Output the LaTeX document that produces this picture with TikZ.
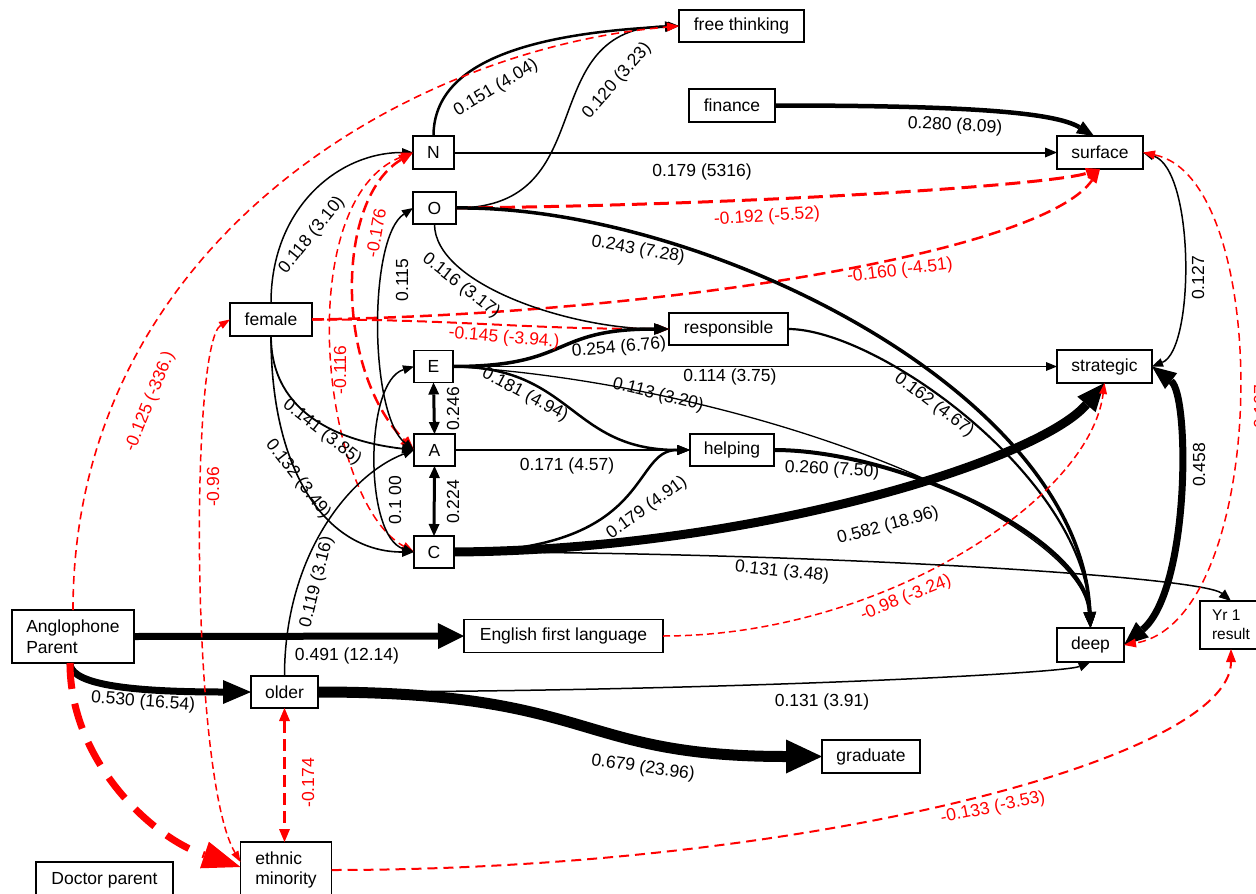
\documentclass[tikz,border=0pt]{standalone}
\usepackage{fontspec}
\setmainfont{Liberation Sans}
\usetikzlibrary{arrows.meta,calc}
\tikzset{
  box/.style={draw, line width=1.1pt, inner sep=0pt, outer sep=0pt, fill=white},
  lab/.style={inner sep=0pt},
  rlab/.style={inner sep=0pt, text=red},
  ah/.style args={#1/#2}{-{Triangle[length=#1pt,width=#2pt,line width=0pt]}},
  dah/.style args={#1/#2}{{Triangle[length=#1pt,width=#2pt,line width=0pt]}-{Triangle[length=#1pt,width=#2pt,line width=0pt]}},
  blk/.style={draw=black, line width=#1pt},
  rdash/.style args={#1/#2/#3}{draw=red, line width=#1pt, dash pattern=on #2pt off #3pt},
}
\begin{document}
\begin{tikzpicture}[x=1pt, y=-1pt, font=\fontsize{17.5}{20.5}\selectfont]
\fill[white] (0,0) rectangle (1256,894);
\useasboundingbox (0,0) rectangle (1256,894);

% ---------- nodes ----------
\node[box, minimum width=125pt, minimum height=32pt] (ft) at (741.5,26) {free thinking};
\node[box, minimum width=86pt, minimum height=33pt] (fin) at (732,105.5) {finance};
\node[box, minimum width=41pt, minimum height=33pt] (N) at (433.5,152.5) {N};
\node[box, minimum width=86pt, minimum height=33pt] (surf) at (1100,152.5) {surface};
\node[box, minimum width=43pt, minimum height=32pt] (O) at (434.5,208) {O};
\node[box, minimum width=82pt, minimum height=33pt] (fem) at (271,319.5) {female};
\node[box, minimum width=119pt, minimum height=32pt] (resp) at (728.5,329) {responsible};
\node[box, minimum width=39pt, minimum height=32pt] (E) at (433.5,366.5) {E};
\node[box, minimum width=95pt, minimum height=33pt] (strat) at (1104.5,366.5) {strategic};
\node[box, minimum width=41pt, minimum height=32pt] (A) at (434.5,450) {A};
\node[box, minimum width=84pt, minimum height=32pt] (help) at (732,450) {helping};
\node[box, minimum width=40pt, minimum height=32pt] (C) at (434,552) {C};
\node[box, minimum width=122pt, minimum height=53pt, align=left] (ang) at (73,636.5) {Anglophone\\Parent};
\node[box, minimum width=199pt, minimum height=33pt] (efl) at (563.5,636) {English first language};
\node[box, minimum width=67pt, minimum height=34pt] (deep) at (1090.5,645) {deep};
\node[box, minimum width=62pt, minimum height=48pt, align=left, font=\fontsize{15.5}{19}\selectfont] (yr1) at (1231,625) {Yr 1\\result};
\node[box, minimum width=67pt, minimum height=32pt] (older) at (284.5,692) {older};
\node[box, minimum width=98pt, minimum height=33pt] (grad) at (871,756.5) {graduate};
\node[box, minimum width=137pt, minimum height=36pt] (doc) at (104.5,880) {Doctor parent};
\node[box, minimum width=91pt, minimum height=56pt, align=left] (eth) at (286,870) {ethnic\\minority};

% ---------- connectors ----------
% to free thinking
\draw[blk=2.5, ah=14/11] (N.north) .. controls +(0,-70) and +(-160,8) .. (ft.west);
\draw[blk=1.5, ah=11/9] (O.east) .. controls +(150,0) and +(-150,0) .. (ft.west);
\draw[rdash=1.6/8/5, ah=12/9] (ang.north) .. controls +(0,-360) and +(-280,24) .. (ft.west);

% to surface
\draw[blk=4.5, ah=17/14] (fin.east) .. controls +(190,0) and +(-40,-24) .. ($(surf.north)+(-6,0)$);
\draw[blk=2, ah=12/10] (N.east) -- (surf.west);
\draw[rdash=3/15/7, ah=14/11] (O.east) .. controls +(300,-3) and +(-50,16) .. (surf.south);
\draw[rdash=2.5/12/6, ah=14/11] (fem.east) .. controls +(340,-5) and +(-60,85) .. (surf.south);

% female to N, N correlations
\draw[blk=1.5, ah=11/9] (fem.north) .. controls +(0,-95) and +(-75,0) .. (N.west);
\draw[rdash=2.5/12/6, dah=14/11] (N.west) .. controls +(-78,47) and +(-79,-80) .. (A.west);
\draw[rdash=1.5/8/5, dah=12/9] (N.west) .. controls +(-123,47) and +(-93,-52) .. (C.west);
\draw[blk=1.5, dah=11/9] (O.west) .. controls +(-45,30) and +(-45,-35) .. (A.west);
\draw[blk=1.5, dah=11/9] (E.west) .. controls +(-50,15) and +(-50,-15) .. (C.west);
\draw[blk=3, dah=12/11] (E.south) -- (A.north);
\draw[blk=3, dah=12/11] (A.south) -- (C.north);

% female to A, C
\draw[blk=1.8, ah=12/10] (fem.south) .. controls +(0,80) and +(-70,-8) .. (A.west);
\draw[blk=1.6, ah=12/10] (fem.south) .. controls +(0,140) and +(-85,0) .. (C.west);
\draw[blk=1.5, ah=11/9] (older.north) .. controls +(0,-120) and +(-65,25) .. (A.west);

% to responsible
\draw[blk=1.5, ah=12/10] (O.south) .. controls +(0,60) and +(-100,0) .. (resp.west);
\draw[rdash=2/10/5, ah=13/10] (fem.east) .. controls +(150,0) and +(-150,0) .. (resp.west);
\draw[blk=3.5, ah=15/12] (E.east) .. controls +(120,0) and +(-120,0) .. (resp.west);

% to deep
\draw[blk=3.5, ah=16/13] (O.east) .. controls +(244,-3) and +(-10,-238) .. (deep.north);
\draw[blk=2.2, ah=14/11] (resp.east) .. controls +(90,0) and +(-5,-150) .. (deep.north);
\draw[blk=1.3, ah=12/10] (E.east) .. controls +(300,18) and +(-5,-110) .. (deep.north);
\draw[blk=4, ah=16/13] (help.east) .. controls +(125,0) and +(-5,-90) .. (deep.north);
\draw[blk=1.5, ah=12/10] (older.east) .. controls +(380,0) and +(-30,12) .. (deep.south);

% to strategic
\draw[blk=1.5, ah=11/9] (E.east) -- (strat.west);
\draw[blk=9, ah=28/24] (C.east) .. controls +(300,-2) and +(-65,77) .. (strat.south);
\draw[rdash=1.5/7/4, ah=11/8] (efl.east) .. controls +(217,0) and +(-15,117) .. (strat.south);

% to helping
\draw[blk=2.5, ah=13/10] (E.east) .. controls +(120,0) and +(-120,0) .. (help.west);
\draw[blk=2, ah=12/10] (A.east) -- (help.west);
\draw[blk=2.5, ah=13/10] (C.east) .. controls +(200,0) and +(-60,0) .. (help.west);

% to Yr 1
\draw[blk=1.5, ah=12/10] (C.east) .. controls +(350,0) and +(-30,-25) .. (yr1.north);
\draw[rdash=2/10/6, ah=13/10] (eth.east) .. controls +(470,0) and +(0,110) .. (yr1.south);

% correlations right
\draw[blk=1.5, dah=11/9] (surf.east) .. controls +(52,17) and +(43,-17) .. (strat.east);
\draw[blk=7, dah=24/20] (strat.east) .. controls +(38,29) and +(66,-55) .. (deep.east);
\draw[rdash=1.5/8/5, dah=12/9] (surf.east) .. controls +(132,27) and +(146,-25) .. (deep.east);

% Anglophone parent
\draw[blk=7, ah=26/26] (ang.east) -- (efl.west);
\draw[blk=7, ah=28/24] ($(ang.south)+(-3,0)$) .. controls +(0,18) and +(-140,0) .. (older.west);
\draw[rdash=7/26/15, ah=38/28] ($(ang.south)+(-3,0)$) .. controls +(0,97) and +(-90,-30) .. ($(eth.west)+(0,-3)$);

% older
\draw[blk=11, ah=36/34] (older.east) .. controls +(280,0) and +(-250,0) .. (grad.west);
\draw[rdash=2.5/12/6, dah=13/11] (older.south) -- (older.south |- eth.north);

% female - ethnic
\draw[rdash=1.5/7/4, dah=11/8] (fem.west) .. controls +(-40,25) and +(-50,-85) .. ($(eth.west)+(0,-8)$);

% ---------- labels ----------
\node[lab, rotate=31] (l151) at (496,88) {0.151 (4.04)};
\node[lab, rotate=49] (l120) at (617,81) {0.120 (3.23)};
\node[rlab, rotate=68] (l125) at (150,402) {-0.125 (-336.)};
\node[lab, rotate=-3] (l280) at (955,126) {0.280 (8.09)};
\node[lab] (l179a) at (702,172) {0.179 (5316)};
\node[rlab, rotate=3.5] (l192) at (767,217) {-0.192 (-5.52)};
\node[rlab, rotate=7] (l160) at (900,271) {-0.160 (-4.51)};
\node[lab, rotate=51] (l118) at (312,235) {0.118 (3.10)};
\node[rlab, rotate=80] (l176) at (376,233) {-0.176};
\node[lab, rotate=90] (l115) at (402,280) {0.115};
\node[lab, rotate=-38] (l116b) at (461,286) {0.116 (3.17)};
\node[rlab, rotate=-5] (l145) at (504,338) {-0.145 (-3.94.)};
\node[lab, rotate=5] (l254) at (619,348) {0.254 (6.76)};
\node[lab, rotate=-10] (l243) at (638,250) {0.243 (7.28)};
\node[rlab, rotate=90] (l116r) at (340,370) {-0.116};
\node[rlab, rotate=90] (l96) at (213,487) {-0.96};
\node[lab, rotate=-38] (l141) at (322,432) {0.141 (3.85)};
\node[lab, rotate=-52] (l132) at (298,479) {0.132 (3.49)};
\node[lab, rotate=90] (l100) at (395,500) {0.1 00};
\node[lab, rotate=90] (l246) at (453,409) {0.246};
\node[lab, rotate=90] (l224) at (453,502) {0.224};
\node[lab, rotate=-28] (l181) at (525,395) {0.181 (4.94)};
\node[lab, rotate=-14] (l113) at (658,395) {0.113 (3.20)};
\node[lab] (l114) at (730,377) {0.114 (3.75)};
\node[lab] (l171) at (567,466) {0.171 (4.57)};
\node[lab, rotate=36] (l179b) at (647,508) {0.179 (4.91)};
\node[lab, rotate=-37] (l162) at (934,405) {0.162 (4.67)};
\node[lab, rotate=-3] (l260) at (832,470) {0.260 (7.50)};
\node[lab, rotate=15] (l582) at (888,526) {0.582 (18.96)};
\node[lab, rotate=-6] (l131a) at (782,572) {0.131 (3.48)};
\node[rlab, rotate=22] (l98) at (906,598) {-0.98 (-3.24)};
\node[lab, rotate=90] (l127) at (1198,278) {0.127};
\node[lab, rotate=90] (l458) at (1199,465) {0.458};
\node[rlab, rotate=90] (l107) at (1260,410) {-0.107};
\node[lab, rotate=76] (l119) at (317,582) {0.119 (3.16)};
\node[lab] (l491) at (347,656) {0.491 (12.14)};
\node[lab, rotate=-4] (l530) at (143,702) {0.530 (16.54)};
\node[lab] (l131b) at (822,702) {0.131 (3.91)};
\node[lab, rotate=-8] (l679) at (643,768) {0.679 (23.96)};
\node[rlab, rotate=90] (l174) at (308,783) {-0.174};
\node[rlab, rotate=11.5] (l133) at (993,808) {-0.133 (-3.53)};
\end{tikzpicture}
\end{document}
